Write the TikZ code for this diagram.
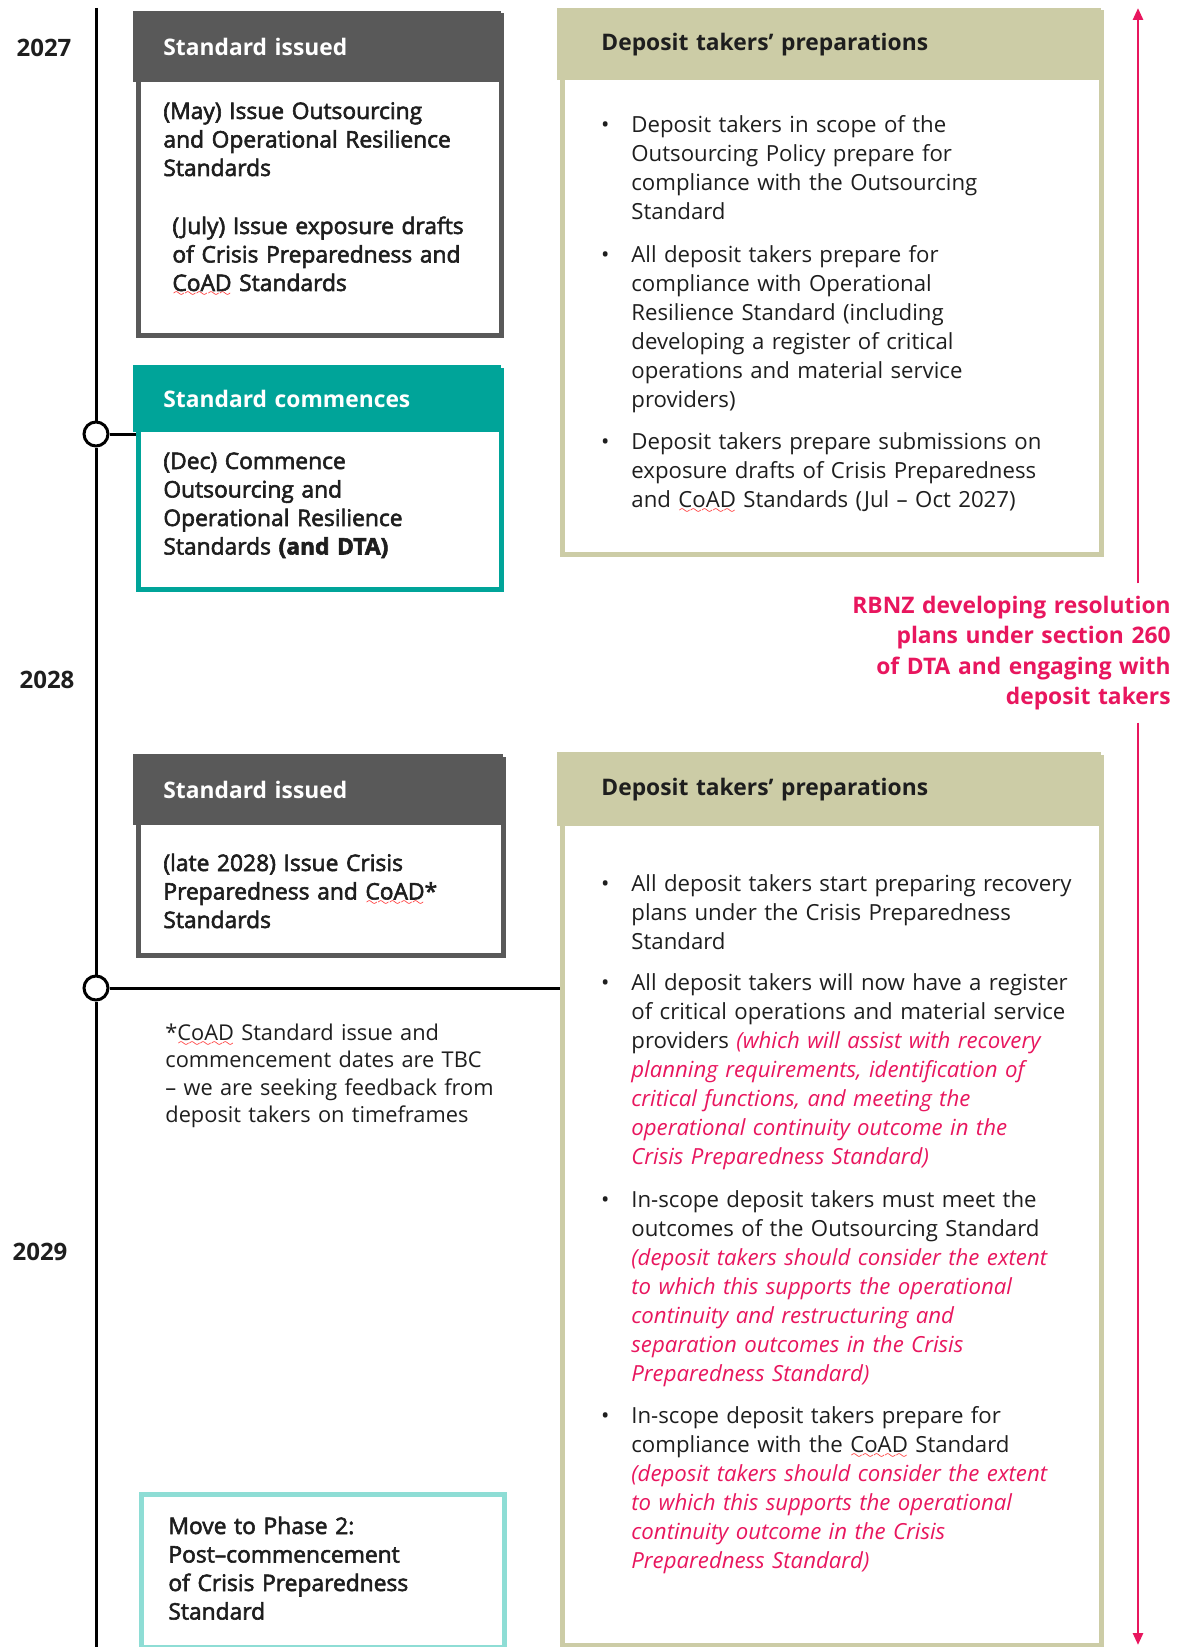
\documentclass[tikz,border=0pt]{standalone}
\usepackage{fontspec}
\setmainfont{Open Sans}
\newfontfamily\semib[FakeBold=2.5]{Open Sans}
\usetikzlibrary{arrows.meta}

\definecolor{ink}{RGB}{30,30,30}
\definecolor{issuegray}{RGB}{89,89,89}
\definecolor{commteal}{RGB}{0,164,153}
\definecolor{phaseteal}{RGB}{142,221,213}
\definecolor{prepolive}{RGB}{204,204,166}
\definecolor{rbnzpink}{RGB}{232,22,94}

\font\sixly=lasy6
\newsavebox\squigbox
\newcommand\squig[1]{\leavevmode\sbox\squigbox{#1}\rlap{\textcolor{red}{\lower3pt\hbox to\wd\squigbox{\xleaders\hbox{\sixly\char58}\hfil}}}\usebox\squigbox}
\newcommand\bul{\llap{\textbullet\hspace{11pt}}}
\newcommand\pinkit{\color{rbnzpink}\itshape}

\begin{document}
\begin{tikzpicture}[x=0.5pt, y=-0.5pt,
  frame/.style={draw=#1, line width=2.5pt, anchor=north west, inner sep=0pt},
  band/.style={anchor=north west, inner ysep=0pt, align=left, font=\bfseries\fontsize{11.4}{14}\selectfont},
  lbody/.style={anchor=base west, inner sep=0pt, text width=190pt, align=left, text=ink, font=\semib\fontsize{11.4}{14.25}\selectfont},
  rbody/.style={anchor=base west, inner sep=0pt, text width=260pt, align=left, text=ink, font=\fontsize{11.1}{14.5}\selectfont},
  year/.style={font=\bfseries\fontsize{12}{14}\selectfont, text=ink},
  tick/.style={circle, draw, line width=1.5pt, fill=white, minimum size=12pt, inner sep=0pt},
  axis/.style={line width=1.5pt},
  flow/.style={draw=rbnzpink, line width=1.3pt, -{Triangle[length=6pt,width=5pt]}}]

  \useasboundingbox (0,0) rectangle (1184,1647);

  % years
  \path node[year] (y27) at (44,48) {2027}
        node[year] (y28) at (47,680) {2028}
        node[year] (y29) at (40,1252) {2029};

  % left column
  \node[frame=issuegray, minimum width=181.5pt, minimum height=160pt] (iss1) at (135.5,13.5) {};
  \node[band, fill=issuegray, text=white, inner xsep=15pt, text width=154pt, minimum height=35.5pt] (iss1h) at (133,11) {Standard issued};
  \node[lbody] (iss1a) at (163,119) {(May) Issue Outsourcing\\and Operational Resilience\\Standards};
  \node[lbody] (iss1b) at (172,234) {(July) Issue exposure drafts\\of Crisis Preparedness and\\\squig{CoAD} Standards};

  \node[frame=commteal, minimum width=181.5pt, minimum height=109.5pt] (com1) at (135.5,367.5) {};
  \node[band, fill=commteal, text=white, inner xsep=15pt, text width=154pt, minimum height=33.5pt] (com1h) at (133,365) {Standard commences};
  \node[lbody] (com1a) at (163,469) {(Dec) Commence\\Outsourcing and\\Operational Resilience\\Standards \textbf{(and DTA)}};

  \node[frame=issuegray, minimum width=182.5pt, minimum height=98pt] (iss2) at (135.5,756.5) {};
  \node[band, fill=issuegray, text=white, inner xsep=15pt, text width=155pt, minimum height=35.5pt] (iss2h) at (133,754) {Standard issued};
  \node[lbody] (iss2a) at (163,871) {(late 2028) Issue Crisis\\Preparedness and \squig{CoAD}*\\Standards};

  \node[lbody, font=\fontsize{10.9}{13.8}\selectfont] (note) at (165,1040) {*\squig{CoAD} Standard issue and\\commencement dates are TBC\\– we are seeking feedback from\\deposit takers on timeframes};

  \node[frame=phaseteal, minimum width=181.5pt, minimum height=76.5pt] (phase) at (138.5,1491.5) {};
  \node[lbody] (phasea) at (168,1534) {Move to Phase 2:\\Post–commencement\\of Crisis Preparedness\\Standard};

  % right column
  \node[frame=prepolive, minimum width=269.5pt, minimum height=270.5pt] (prep1) at (559.5,10.5) {};
  \node[band, fill=prepolive, text=ink, inner xsep=22pt, text width=228pt, minimum height=36pt] (prep1h) at (557,8) {Deposit takers’ preparations};
  \node[rbody] (prep1a) at (631,133) {\bul Deposit takers in scope of the\\Outsourcing Policy prepare for\\compliance with the Outsourcing\\Standard};
  \node[rbody] (prep1b) at (631,263) {\bul All deposit takers prepare for\\compliance with Operational\\Resilience Standard (including\\developing a register of critical\\operations and material service\\providers)};
  \node[rbody] (prep1c) at (631,449) {\bul Deposit takers prepare submissions on\\exposure drafts of Crisis Preparedness\\and \squig{CoAD} Standards (Jul – Oct 2027)};

  \node[frame=prepolive, minimum width=269.5pt, minimum height=444pt] (prep2) at (559.5,754.5) {};
  \node[band, fill=prepolive, text=ink, inner xsep=22pt, text width=228pt, minimum height=37pt] (prep2h) at (557,752) {Deposit takers’ preparations};
  \node[rbody] (prep2a) at (631,891) {\bul All deposit takers start preparing recovery\\plans under the Crisis Preparedness\\Standard};
  \node[rbody] (prep2b) at (631,990) {\bul All deposit takers will now have a register\\of critical operations and material service\\providers {\pinkit (which will assist with recovery\\planning requirements, identification of\\critical functions, and meeting the\\operational continuity outcome in the\\Crisis Preparedness Standard)}};
  \node[rbody] (prep2c) at (631,1207) {\bul In-scope deposit takers must meet the\\outcomes of the Outsourcing Standard\\{\pinkit (deposit takers should consider the extent\\to which this supports the operational\\continuity and restructuring and\\separation outcomes in the Crisis\\Preparedness Standard)}};
  \node[rbody] (prep2d) at (631,1423) {\bul In-scope deposit takers prepare for\\compliance with the \squig{CoAD} Standard\\{\pinkit (deposit takers should consider the extent\\to which this supports the operational\\continuity outcome in the Crisis\\Preparedness Standard)}};

  % resolution arrow
  \node[anchor=base east, inner xsep=0pt, inner ysep=6pt, text width=170pt, align=right, text=rbnzpink, font=\bfseries\fontsize{11.4}{15.3}\selectfont] (rbnz) at (1171,613) {RBNZ developing resolution\\plans under section 260\\of DTA and engaging with\\deposit takers};
  \coordinate (arrtop) at (1138,8);
  \coordinate (arrbot) at (1138,1645);
  \draw[flow] (arrtop |- rbnz.north) -- (arrtop);
  \draw[flow] (arrbot |- rbnz.south) -- (arrbot);

  % timeline
  \node[tick] (tk1) at (96,434) {};
  \node[tick] (tk2) at (96,988) {};
  \coordinate (ttop) at (96,8);
  \coordinate (tbot) at (96,1647);
  \draw[axis] (ttop) -- (tk1) -- (tk2) -- (tbot);
  \draw[axis] (tk1) -- (tk1 -| com1.west);
  \draw[axis] (tk2) -- (tk2 -| prep2.west);
\end{tikzpicture}
\end{document}
